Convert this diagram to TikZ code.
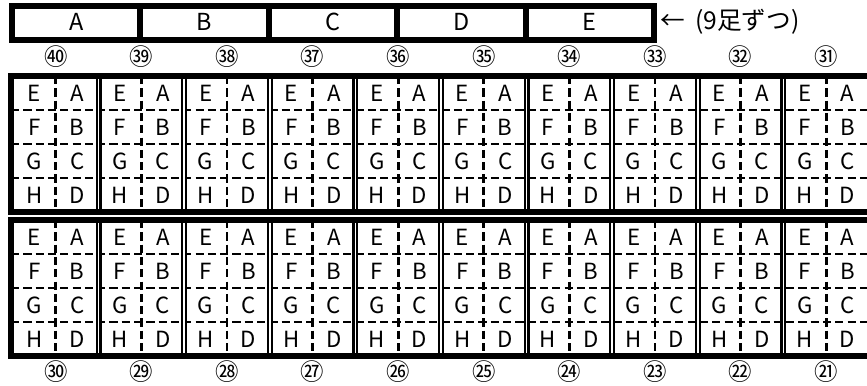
\documentclass[tikz,border=0pt]{standalone}
\usepackage{fontspec}
\setmainfont{Noto Sans CJK JP}
\usetikzlibrary{positioning}

\begin{document}
\begin{tikzpicture}[x=0.03cm,y=-0.03cm,
  thickline/.style={line width=4.3pt,line join=miter},
  barline/.style={line width=5pt,line join=miter},
  dashline/.style={line width=2.3pt,dash pattern=on 7pt off 3.5pt},
  sepline/.style={line width=1.9pt,double,double distance=1.4pt},
  barlab/.style={font=\fontsize{20}{20}\selectfont,inner sep=0pt},
  notelab/.style={font=\fontsize{21}{21}\selectfont,inner sep=0pt},
  cell/.style={font=\fontsize{19}{19}\selectfont,inner sep=0pt},
  numlab/.style={font=\fontsize{20}{20}\selectfont,inner sep=0pt}]
\useasboundingbox (0,0) rectangle (867,385);
\clip (0,0) rectangle (867,385);
% top bar
\foreach \i/\lab in {0/A,1/B,2/C,3/D,4/E}{
  \node[barlab] (bar\lab) at ({12+128.4*\i+64.2},22) {\lab};
}
\draw[barline] (12,6) rectangle (654,40);
\foreach \i in {1,...,4} \draw[barline] ({12+128.4*\i},6) -- ({12+128.4*\i},40);
\node[notelab,anchor=west] (note) at (660,22) {←\hspace{9pt}(9足ずつ)};
% numbers
\foreach \c/\n in {0/㊵,1/㊴,2/㊳,3/㊲,4/㊱,5/㉟,6/㉞,7/㉝,8/㉜,9/㉛}{
  \node[numlab] (top\c) at ({13+85.6*\c+42.8},57) {\n};
}
\foreach \c/\n in {0/㉚,1/㉙,2/㉘,3/㉗,4/㉖,5/㉕,6/㉔,7/㉓,8/㉒,9/㉑}{
  \node[numlab] (bot\c) at ({13+85.6*\c+42.8},372) {\n};
}
% two blocks of columns
\foreach \b/\t in {0/76,1/220}{
  \foreach \c in {0,...,9}{
    \foreach \r/\L/\R in {0/E/A,1/F/B,2/G/C,3/H/D}{
      \node[cell] (l\b\c\r) at ({13+85.6*\c+21.4},{\t+17+34*\r}) {\L};
      \node[cell] (r\b\c\r) at ({13+85.6*\c+64.2},{\t+17+34*\r}) {\R};
    }
    \draw[dashline] ({13+85.6*\c+42.8},{\t}) -- ++(0,136);
  }
  \foreach \r in {1,2,3} \draw[dashline] (11,{\t+34*\r}) -- (875,{\t+34*\r});
  \foreach \c in {1,...,9} \draw[sepline] ({13+85.6*\c},{\t}) -- ++(0,136);
  \draw[thickline] (11,{\t}) rectangle (880,{\t+136});
}
\end{tikzpicture}
\end{document}
